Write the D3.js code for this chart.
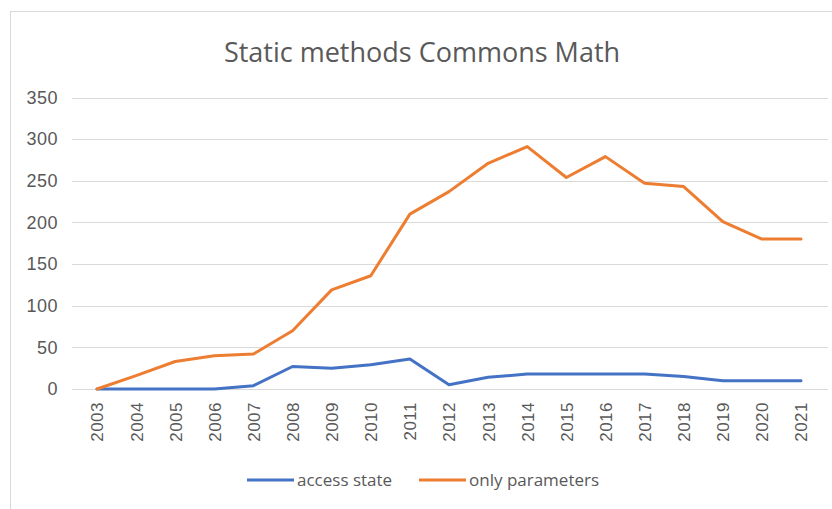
<!DOCTYPE html>
<html>
<head>
<meta charset="utf-8">
<script src="https://cdn.jsdelivr.net/npm/d3@7"></script>
<style>
  body { margin: 0; background: #fff; }
  svg { display: block; }
  .grid line { stroke: #d9d9d9; stroke-width: 1; }
  .tick text { fill: #595959; }
</style>
</head>
<body>
<div id="chart"></div>
<script>
const svgWidth = 832,
    svgHeight = 509;

// data
const years = ["2003", "2004", "2005", "2006", "2007", "2008", "2009", "2010", "2011", "2012",
    "2013", "2014", "2015", "2016", "2017", "2018", "2019", "2020", "2021"];
const accessState = [0, 0, 0, 0, 4, 27, 25, 29, 36, 5, 14, 18, 18, 18, 18, 15, 10, 10, 10];
const onlyParameters = [0, 16, 33, 40, 42, 70, 119, 136, 210, 237, 271, 291, 254, 279, 247, 243, 201, 180, 180];
const yTicks = [0, 50, 100, 150, 200, 250, 300, 350];

const seriesNames = ["access state", "only parameters"];
const colors = ["#4472c4", "#ed7d31"];

let svg = d3.select("#chart").append("svg")
    .attr("width", svgWidth)
    .attr("height", svgHeight);

// chart border
svg.append("rect")
    .attr("x", 10.5)
    .attr("y", 11.5)
    .attr("width", 830)
    .attr("height", 510)
    .attr("fill", "none")
    .attr("stroke", "#d9d9d9");

// title
svg.append("text")
    .attr("x", 422)
    .attr("y", 62)
    .attr("text-anchor", "middle")
    .attr("font-family", "Open Sans")
    .attr("font-size", 27)
    .attr("fill", "#595959")
    .text("Static methods Commons Math");

let xScale = d3.scalePoint()
    .domain(years)
    .range([97, 801]);

let yScale = d3.scaleLinear()
    .domain([0, 350])
    .range([389, 97.5]);

// gridlines
svg.append("g")
    .attr("class", "grid")
    .selectAll("line")
    .data(yTicks)
    .join("line")
    .attr("x1", 72)
    .attr("x2", 828)
    .attr("y1", (d) => Math.round(yScale(d)) + 0.5)
    .attr("y2", (d) => Math.round(yScale(d)) + 0.5);

// y axis labels
let yAxis = svg.append("g")
    .attr("transform", "translate(64,0)")
    .call(d3.axisLeft(yScale).tickValues(yTicks).tickSize(0).tickPadding(6));
yAxis.select(".domain").remove();
yAxis.selectAll("text")
    .attr("font-family", "Liberation Sans")
    .attr("font-size", 18)
    .attr("letter-spacing", 0.5);

// x axis labels (rotated)
let xAxis = svg.append("g")
    .attr("transform", "translate(0,389)")
    .call(d3.axisBottom(xScale).tickSize(0));
xAxis.select(".domain").remove();
xAxis.selectAll("text")
    .attr("font-family", "Liberation Sans")
    .attr("font-size", 17)
    .attr("letter-spacing", 0.5)
    .attr("text-anchor", "end")
    .attr("dy", "0.35em")
    .attr("transform", "translate(0,13) rotate(-90)")
    .attr("x", 0)
    .attr("y", 0);

// lines
let line = d3.line()
    .x((d, i) => xScale(years[i]))
    .y((d) => yScale(d));

[accessState, onlyParameters].forEach((s, i) => {
    svg.append("path")
        .datum(s)
        .attr("fill", "none")
        .attr("stroke", colors[i])
        .attr("stroke-width", 3)
        .attr("stroke-linejoin", "round")
        .attr("stroke-linecap", "round")
        .attr("d", line);
});

// legend
let legendX = [247, 419];
let legend = svg.append("g")
    .selectAll("g")
    .data(seriesNames)
    .join("g")
    .attr("transform", (d, i) => `translate(${legendX[i]},480)`);
legend.append("line")
    .attr("x1", 0)
    .attr("x2", 47)
    .attr("stroke", (d, i) => colors[i])
    .attr("stroke-width", 3);
legend.append("text")
    .attr("x", 50)
    .attr("dy", "0.35em")
    .attr("font-family", "Open Sans")
    .attr("font-size", 17)
    .attr("fill", "#595959")
    .text((d) => d);
</script>
</body>
</html>
